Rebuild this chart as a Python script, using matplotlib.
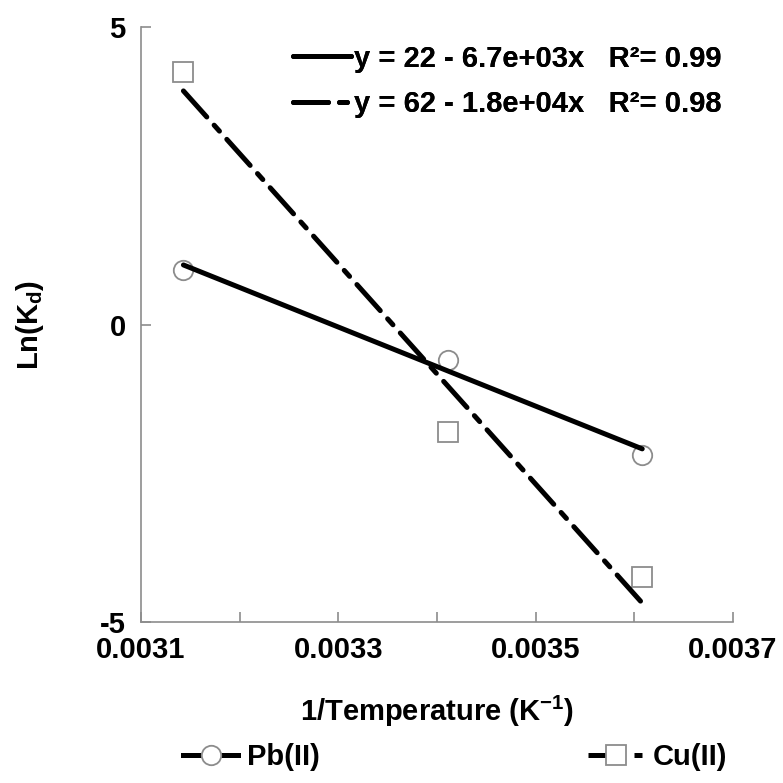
import numpy as np
import matplotlib
matplotlib.use("Agg")
import matplotlib.pyplot as plt
from matplotlib.lines import Line2D

plt.rcParams['font.family'] = ['Liberation Sans', 'DejaVu Sans']
plt.rcParams['font.weight'] = 'bold'
plt.rcParams['mathtext.fontset'] = 'custom'
plt.rcParams['mathtext.rm'] = 'Liberation Sans:bold'
plt.rcParams['mathtext.it'] = 'Liberation Sans:bold'
plt.rcParams['mathtext.bf'] = 'Liberation Sans:bold'
plt.rcParams['mathtext.default'] = 'bf'

# ---- data ----
inv_temp = [0.003143, 0.003411, 0.003608]
pb_lnkd = [0.92, -0.59, -2.20]
cu_lnkd = [4.25, -1.80, -4.24]
series_names = ["Pb(II)", "Cu(II)"]
fit_labels = ["y = 22 - 6.7e+03x   R\u00b2= 0.99", "y = 62 - 1.8e+04x   R\u00b2= 0.98"]
x_ticks = [0.0031, 0.0033, 0.0035, 0.0037]
x_minor = [0.0032, 0.0034, 0.0036]
y_ticks = [-5, 0, 5]

FS = 21
grey = '#8c8c8c'
dashdot = (0, (7, 2.2, 1.6, 2.2))

fig = plt.figure(figsize=(7.83, 7.83), dpi=100)
ax = fig.add_axes([141/783, 1-622/783, (733-141)/783, (622-27)/783])

x = np.array(inv_temp)
xs = np.array([x.min(), x.max()])
p_pb = np.polyfit(x, pb_lnkd, 1)
p_cu = np.polyfit(x, cu_lnkd, 1)

# data markers
ax.plot(inv_temp, pb_lnkd, linestyle='none', marker='o', ms=14, mfc='white',
        mec=grey, mew=1.3, zorder=2)
ax.plot(inv_temp, cu_lnkd, linestyle='none', marker='s', ms=15, mfc='white',
        mec=grey, mew=1.3, zorder=2)

# fit lines
l1, = ax.plot(xs, np.polyval(p_pb, xs), color='black', lw=3.6,
              solid_capstyle='round', zorder=3)
l2, = ax.plot(xs, np.polyval(p_cu, xs), color='black', lw=3.6,
              linestyle=dashdot, dash_capstyle='round', zorder=3)

ax.set_xlim(0.0031, 0.0037)
ax.set_ylim(-5, 5)
ax.set_xticks(x_ticks)
ax.set_xticks(x_minor, minor=True)
ax.set_xticklabels([f"{t:.4f}" for t in x_ticks])
ax.set_yticks(y_ticks)
ax.set_yticklabels([str(t) for t in y_ticks])

for s in ['top', 'right']:
    ax.spines[s].set_visible(False)
for s in ['left', 'bottom']:
    ax.spines[s].set_color(grey)
    ax.spines[s].set_linewidth(1.2)

ax.tick_params(axis='both', which='both', direction='in', length=7, width=1.2,
               color=grey, labelsize=FS)
ax.tick_params(axis='x', pad=10)
ax.tick_params(axis='y', pad=11)

ax.set_xlabel("1/Temperature (K$^{-1}$)", fontsize=FS, fontweight='bold')
ax.xaxis.set_label_coords(0.5, (622 - 694) / 595)
ax.set_ylabel("Ln(K$_{d}$)", fontsize=FS, fontweight='bold')
ax.yaxis.set_label_coords((46 - 141) / 592, 0.5)

# equation legend
leg1 = ax.legend([l1, l2], fit_labels, loc='upper right', bbox_to_anchor=(1.0, 0.99),
                 frameon=False, fontsize=FS, handlelength=2.0, handletextpad=0.1,
                 labelspacing=0.6, borderaxespad=0.0)
ax.add_artist(leg1)

# series legend below
h_pb = Line2D([], [], color='black', lw=3.6, marker='o', ms=14, mfc='white', mec=grey, mew=1.3)
h_cu = Line2D([], [], color='black', lw=3.6, linestyle=dashdot, marker='s', ms=15,
              mfc='white', mec=grey, mew=1.3)
fig.legend([h_pb, h_cu], series_names, loc='center', bbox_to_anchor=(455/783, 1-757/783),
           ncol=2, frameon=False, fontsize=FS, handlelength=1.9, handletextpad=0.3,
           columnspacing=9.2)

fig.savefig("out.png", dpi=100)
